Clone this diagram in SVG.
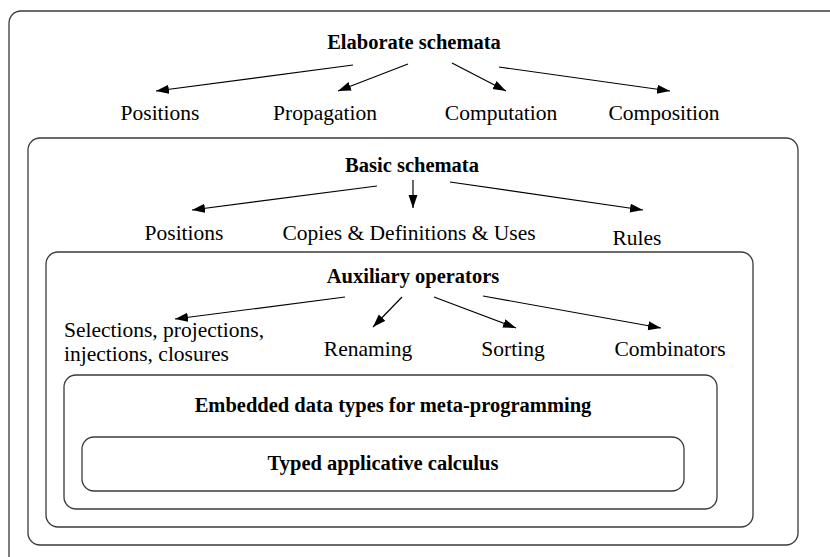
<svg xmlns="http://www.w3.org/2000/svg" width="830" height="557" viewBox="0 0 830 557">
  <style>
    .box { fill: none; stroke: #3a3a3a; stroke-width: 1.3; }
    .title { font-family: "Liberation Serif", "Times New Roman", "DejaVu Serif", serif; font-weight: bold; font-size: 20.5px; fill: #000; text-anchor: middle; }
    .label { font-family: "Liberation Serif", "Times New Roman", "DejaVu Serif", serif; font-size: 21.5px; fill: #000; text-anchor: middle; }
    .left { text-anchor: start; }
    .edge { stroke: #000; stroke-width: 1.2; fill: none; marker-end: url(#head); }
  </style>
  <defs>
    <marker id="head" markerUnits="userSpaceOnUse" markerWidth="14" markerHeight="10" refX="13" refY="4.5" orient="auto">
      <path d="M0,0 L13,4.5 L0,9 z" fill="#000"/>
    </marker>
  </defs>
  <rect width="830" height="557" fill="#fff"/>

  <!-- Layer 1: elaborate schemata (runs off the page edge) -->
  <g id="elaborate">
    <rect class="box" x="9" y="11" width="900" height="600" rx="12"/>
    <text class="title" x="414" y="49">Elaborate schemata</text>
    <text class="label" x="160" y="120">Positions</text>
    <text class="label" x="325" y="120">Propagation</text>
    <text class="label" x="501" y="120">Computation</text>
    <text class="label" x="664" y="120">Composition</text>
  </g>

  <!-- Layer 2: basic schemata -->
  <g id="basic">
    <rect class="box" x="28" y="138" width="770" height="407" rx="12"/>
    <text class="title" x="412" y="172">Basic schemata</text>
    <text class="label" x="184" y="240">Positions</text>
    <text class="label" x="409" y="240">Copies &amp; Definitions &amp; Uses</text>
    <text class="label" x="637" y="245">Rules</text>
  </g>

  <!-- Layer 3: auxiliary operators -->
  <g id="auxiliary">
    <rect class="box" x="46" y="252" width="707" height="275" rx="12"/>
    <text class="title" x="413" y="283">Auxiliary operators</text>
    <text class="label left" x="64" y="337">Selections, projections,</text>
    <text class="label left" x="64" y="361">injections, closures</text>
    <text class="label" x="368" y="356">Renaming</text>
    <text class="label" x="513" y="356">Sorting</text>
    <text class="label" x="670" y="356">Combinators</text>
  </g>

  <!-- Layer 4: embedded data types -->
  <g id="embedded">
    <rect class="box" x="64" y="375" width="653" height="134" rx="12"/>
    <text class="title" x="393" y="412">Embedded data types for meta-programming</text>
  </g>

  <!-- Layer 5: typed applicative calculus -->
  <g id="calculus">
    <rect class="box" x="82" y="437" width="602" height="54" rx="12"/>
    <text class="title" x="383" y="470">Typed applicative calculus</text>
  </g>

  <g id="connectors">
    <line class="edge" x1="353" y1="65" x2="156" y2="91"/>
    <line class="edge" x1="408" y1="64" x2="338" y2="91"/>
    <line class="edge" x1="452" y1="63" x2="506" y2="91"/>
    <line class="edge" x1="499" y1="67" x2="670" y2="91"/>

    <line class="edge" x1="377" y1="186" x2="192" y2="210"/>
    <line class="edge" x1="413" y1="180" x2="413" y2="208"/>
    <line class="edge" x1="450" y1="182" x2="643" y2="210"/>

    <line class="edge" x1="345" y1="297" x2="175" y2="319"/>
    <line class="edge" x1="402" y1="297" x2="373" y2="327"/>
    <line class="edge" x1="434" y1="297" x2="516" y2="328"/>
    <line class="edge" x1="483" y1="296" x2="661" y2="328"/>
  </g>
</svg>
